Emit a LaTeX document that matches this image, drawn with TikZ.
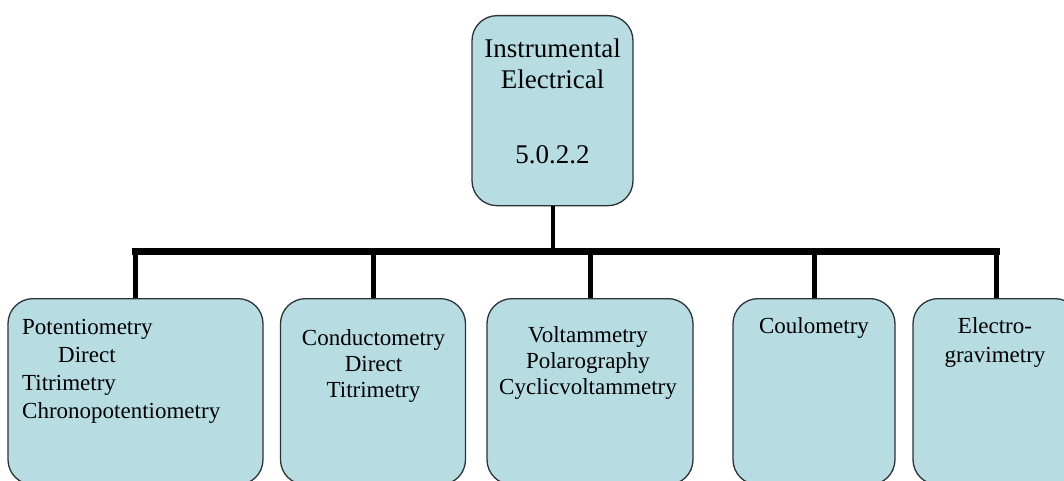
\documentclass[tikz,border=0pt]{standalone}
\usepackage{fontspec}
\setmainfont{Liberation Serif}
\definecolor{boxfill}{RGB}{183,221,227}
\definecolor{boxline}{RGB}{45,50,55}
\begin{document}
\begin{tikzpicture}[x=1pt,y=-1pt,
  catbox/.style={draw=boxline,line width=1.3pt,fill=boxfill,rounded corners=25pt,
    inner sep=0pt,anchor=north},
  toptext/.style={inner sep=0pt,anchor=north,align=center,font=\fontsize{27}{31}\selectfont},
  subtext/.style={inner sep=0pt,anchor=north,font=\fontsize{23}{26}\selectfont},
  bus/.style={line width=7pt,line cap=rect},
  drop/.style={line width=5pt},
  stem/.style={line width=4pt}]
\useasboundingbox (0,0) rectangle (1064,481);
\clip (0,0) rectangle (1064,481);
\fill[white] (0,0) rectangle (1064,481);

% root box
\node[catbox,minimum width=161pt,minimum height=190pt] (root) at (552.5,15) {};
\node[toptext] (roottxt) at (552.5,38.5) {Instrumental\\Electrical\\[44pt]5.0.2.2};

% branch boxes (their lower edges run past the page)
\node[catbox,minimum width=255pt,minimum height=186pt] (b1) at (135.5,298) {};
\node[catbox,minimum width=185pt,minimum height=186pt] (b2) at (373,298) {};
\node[catbox,minimum width=206pt,minimum height=186pt] (b3) at (590,298) {};
\node[catbox,minimum width=162pt,minimum height=186pt] (b4) at (814,298) {};
\node[catbox,minimum width=167pt,minimum height=186pt] (b5) at (996.5,298) {};

% branch labels
\node[subtext,align=left,anchor=north west,font=\fontsize{23}{28}\selectfont] (t1) at (22,319)
  {Potentiometry\\\hspace*{36pt}Direct\\Titrimetry\\Chronopotentiometry};
\node[subtext,align=center] (t2) at (373.5,329) {Conductometry\\Direct\\Titrimetry};
\node[subtext,align=center] (t3) at (588,326) {Voltammetry\\Polarography\\Cyclicvoltammetry};
\node[subtext,align=center] (t4) at (814,317) {Coulometry};
\node[subtext,align=center,font=\fontsize{23}{29}\selectfont] (t5) at (995,317) {Electro-\\gravimetry};

% connectors
\coordinate (hub) at (552.5,251);
\draw[stem] (root.south) -- (hub);
\draw[bus] (b1.north |- hub) -- (b5.north |- hub);
\foreach \b in {b1,b2,b3,b4,b5}
  \draw[drop] (\b.north |- hub) -- (\b.north);
\end{tikzpicture}
\end{document}
